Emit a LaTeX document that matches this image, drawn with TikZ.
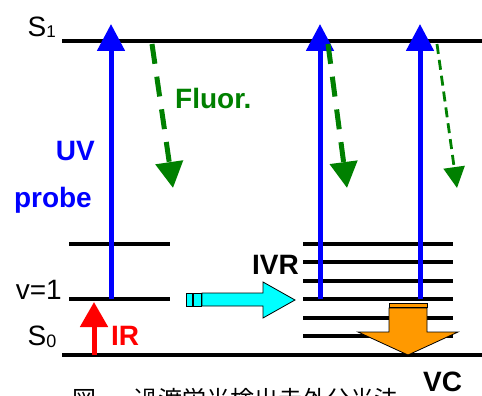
\documentclass[tikz,border=0pt]{standalone}
\usepackage{fontspec}
\setmainfont{Liberation Sans}
\newfontfamily\cjk{Noto Sans CJK JP}
\usetikzlibrary{arrows.meta}
\definecolor{ivrcyan}{RGB}{0,255,255}
\definecolor{vcorange}{RGB}{255,153,0}
\definecolor{fluorgreen}{RGB}{0,128,0}

\begin{document}
\begin{tikzpicture}
[
    x=1pt, y=-1pt,
    elevel/.style={line width=4pt},
    lbl/.style={inner sep=0pt, font=\fontsize{28}{28}\selectfont},
    blbl/.style={inner sep=0pt, font=\fontsize{28}{28}\selectfont\bfseries},
    uvarrow/.style={draw=blue, line width=5pt, -{Triangle[width=27pt,length=27pt]}},
    irarrow/.style={draw=red, line width=5pt, -{Triangle[width=27pt,length=25pt]}},
    fluor/.style={draw=fluorgreen, line width=5pt, dash pattern=on 20pt off 13pt,
        -{Triangle[width=27pt,length=26pt]}},
    fluorweak/.style={draw=fluorgreen, line width=2.8pt, dash pattern=on 10pt off 6pt,
        -{Triangle[width=21pt,length=21pt]}},
    ivrarrow/.style={draw=black, line width=0.8pt, fill=ivrcyan},
    vcarrow/.style={draw=black, line width=0.8pt, fill=vcorange}
]
    \useasboundingbox (0,0) rectangle (482,396);

    \begin{scope}[elevel]
        \draw (62,41) coordinate (s1l) -- (482,41) coordinate (s1r);
        \draw (62,355) coordinate (s0l) -- (482,355) coordinate (s0r);
        \draw (69,244) coordinate (v2l) -- (170,244) coordinate (v2r);
        \draw (69,299) coordinate (v1l) -- (170,299) coordinate (v1r);
        \foreach \y [count=\i] in {244,262,281,299,318,336}
            \draw (303,\y) coordinate (bath\i l) -- (453,\y) coordinate (bath\i r);
    \end{scope}

    \node (s1) [lbl, anchor=base west] at (27.5,37) {S\raisebox{-1pt}{\fontsize{17}{17}\selectfont 1}};
    \node (s0) [lbl, anchor=base west] at (27.5,345) {S\raisebox{-2pt}{\fontsize{18}{18}\selectfont 0}};
    \node (v1) [lbl, anchor=base east] at (62,299) {v=1};

    \coordinate (uvAbot) at (111,299);
    \coordinate (uvAtop) at (111,24);
    \coordinate (uvBbot) at (320,299);
    \coordinate (uvBtop) at (320,24);
    \coordinate (uvCbot) at (420,299);
    \coordinate (uvCtop) at (420,24);
    \draw[uvarrow] (uvAbot) -- (uvAtop);
    \draw[uvarrow] (uvBbot) -- (uvBtop);
    \draw[uvarrow] (uvCbot) -- (uvCtop);

    \coordinate (irbot) at (94,355);
    \coordinate (irtop) at (94,302);
    \draw[irarrow] (irbot) -- (irtop);

    \coordinate (flAtop) at (152,44);
    \coordinate (flAbot) at (173,188);
    \coordinate (flBtop) at (328,44);
    \coordinate (flBbot) at (347,188);
    \coordinate (flCtop) at (437,44);
    \coordinate (flCbot) at (457,188);
    \draw[fluor] (flAtop) -- (flAbot);
    \draw[fluor] (flBtop) -- (flBbot);
    \draw[fluorweak] (flCtop) -- (flCbot);

    \node (uv) [blbl, blue, anchor=base east] at (95,160) {UV};
    \node (probe) [blbl, blue, anchor=base east] at (92,207) {probe};
    \node (fl) [blbl, fluorgreen, anchor=base west] at (175,108) {Fluor.};
    \node (ir) [blbl, red, anchor=base west] at (111,345) {IR};
    \node (ivr) [blbl, anchor=base east] at (299,274) {IVR};
    \node (vc) [blbl, anchor=base west] at (423,391) {VC};

    \draw[ivrarrow] (186,293) rectangle (192,306);
    \draw[ivrarrow] (193,293) rectangle (201,306);
    \draw[ivrarrow] (202,293) -- (263,293) -- (263,282) -- (295,300)
        -- (263,318) -- (263,306) -- (202,306) -- cycle;

    \draw[vcarrow] (389,303) rectangle (427,307);
    \draw[vcarrow] (389,308) -- (427,308) -- (427,332) -- (458,332)
        -- (408,355) -- (358,332) -- (389,332) -- cycle;

    \node (caption) [inner sep=0pt, anchor=base west, font=\cjk\fontsize{24}{24}\selectfont]
        at (72,408) {図\hspace{38pt}過渡蛍光検出赤外分光法};
\end{tikzpicture}
\end{document}
